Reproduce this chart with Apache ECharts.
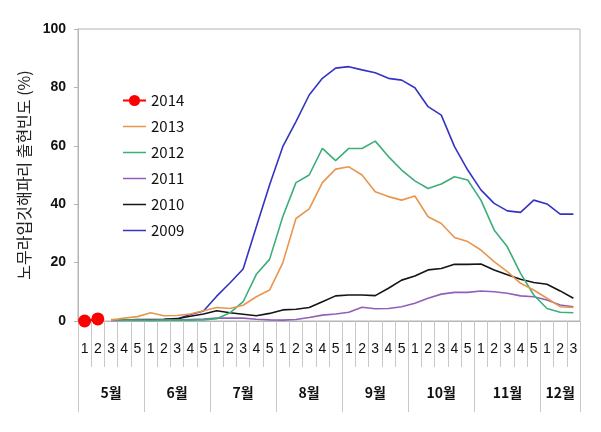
<!DOCTYPE html>
<html>
<head>
<meta charset="utf-8">
<script src="https://cdn.jsdelivr.net/npm/echarts@6/dist/echarts.min.js"></script>
<style>html,body{margin:0;padding:0;background:#fff;}#c{width:601px;height:432px;}</style>
</head>
<body>
<div id="c"></div>
<script>
// ---- data ----
const months = ['5월','6월','7월','8월','9월','10월','11월','12월'];
const weeksPerMonth = [5,5,5,5,5,5,5,3];
const yTicks = [0, 20, 40, 60, 80, 100];

const y2014 = [0, 0.7];
const y2013 = [null,null,0.3,1.0,1.5,2.8,1.8,1.9,2.4,3.5,4.6,4.3,5.4,8.3,10.6,19.9,35.1,38.4,47.4,52.0,52.8,50.0,44.3,42.6,41.4,42.8,35.7,33.4,28.6,27.2,24.3,20.3,16.9,12.9,10.6,7.8,4.9,4.6];
const y2012 = [null,null,0.5,0.3,0.3,0.2,0.3,0.3,0.3,0.4,0.8,2.8,6.6,16.0,21.1,35.7,47.4,50.0,59.1,54.9,59.1,59.1,61.6,56.3,51.7,48.0,45.4,46.9,49.4,48.3,41.4,31.2,25.4,16.3,8.9,4.3,3.0,2.8];
const y2011 = [null,null,0.2,0.2,0.2,0.2,0.3,0.3,0.5,0.7,1.0,1.0,1.0,0.6,0.4,0.3,0.5,1.2,2.0,2.4,3.0,4.7,4.2,4.3,4.9,6.1,7.8,9.2,9.8,9.8,10.3,10.0,9.5,8.6,8.3,7.2,5.5,4.9];
const y2010 = [null,null,0.3,0.3,0.5,0.5,0.6,0.8,1.6,2.4,3.5,2.8,2.3,1.8,2.6,3.8,4.0,4.6,6.6,8.6,8.9,8.9,8.7,11.2,14.0,15.4,17.5,18.0,19.4,19.4,19.5,17.5,15.8,14.3,13.2,12.6,10.3,7.8];
const y2009 = [null,null,0.2,0.3,0.3,0.4,0.5,0.7,2.2,3.4,8.5,13.0,17.8,32.3,46.6,59.7,68.3,77.4,83.1,86.6,87.1,86.0,85.0,83.1,82.5,79.9,73.4,70.5,59.7,51.7,44.9,40.3,37.7,37.2,41.4,40.1,36.6,36.6];

// ---- build categories ----
const cats = [];
const monthStart = {};
const monthMid = {};
months.forEach((m, mi) => {
  const n = weeksPerMonth[mi];
  for (let w = 1; w <= n; w++) {
    const idx = cats.length;
    if (w === 1) monthStart[idx] = true;
    if (w === Math.ceil(n / 2)) monthMid[idx] = m;
    cats.push(m + '|' + w);
  }
});

const chart = echarts.init(document.getElementById('c'));
const lineS = (name, data, color) => ({
  name, type: 'line', data, symbol: 'none', connectNulls: false,
  lineStyle: { color, width: 1.6 }, itemStyle: { color }
});
const lineIcon = 'path://M0,0h46v3h-46z';

chart.setOption({
  animation: false,
  grid: { left: 78, right: 21, top: 29, bottom: 111, show: true, borderColor: '#b4b4b4', borderWidth: 1 },
  legend: {
    orient: 'vertical', left: 117, top: 88, itemWidth: 23, itemHeight: 14, itemGap: 11,
    symbolKeepAspect: true,
    data: [
      { name: '2014' },
      { name: '2013', icon: lineIcon },
      { name: '2012', icon: lineIcon },
      { name: '2011', icon: lineIcon },
      { name: '2010', icon: lineIcon },
      { name: '2009', icon: lineIcon }
    ],
    textStyle: { fontFamily: 'Noto Sans CJK KR', fontSize: 15, color: '#111' }
  },
  xAxis: [
    {
      type: 'category', data: cats, boundaryGap: true, position: 'bottom',
      axisLine: { show: true, lineStyle: { color: '#b4b4b4' } },
      axisTick: { show: true, interval: 0, length: 46, lineStyle: { color: '#c8c8c8' } },
      axisLabel: { interval: 0, margin: 21, fontSize: 14, color: '#111', fontFamily: 'Liberation Sans',
        formatter: v => v.split('|')[1] }
    },
    {
      type: 'category', data: cats, boundaryGap: true, position: 'bottom',
      axisLine: { show: false },
      axisTick: { show: true, length: 91, lineStyle: { color: '#c8c8c8' }, interval: (i) => !!monthStart[i] },
      axisLabel: { margin: 65, fontSize: 14, fontWeight: 'bold', color: '#111', fontFamily: 'Noto Sans CJK KR',
        interval: (i) => monthMid[i] !== undefined,
        formatter: (v, i) => monthMid[i] || '' }
    }
  ],
  yAxis: {
    type: 'value', min: yTicks[0], max: yTicks[yTicks.length - 1], interval: 20,
    name: '노무라입깃해파리 출현빈도 (%)', nameLocation: 'middle', nameGap: 43, nameRotate: 90,
    nameTextStyle: { fontFamily: 'Noto Sans CJK KR', fontSize: 16, color: '#222' },
    splitLine: { show: false },
    axisLine: { show: true, lineStyle: { color: '#b4b4b4' } },
    axisTick: { show: true, length: 4, lineStyle: { color: '#b4b4b4' } },
    axisLabel: { margin: 12, fontSize: 14, fontWeight: 'bold', color: '#111', fontFamily: 'Liberation Sans' }
  },
  series: [
    lineS('2009', y2009, '#3434C2'),
    lineS('2010', y2010, '#151515'),
    lineS('2011', y2011, '#9060B8'),
    lineS('2012', y2012, '#3DAE7A'),
    lineS('2013', y2013, '#E8964E'),
    { name: '2014', type: 'line', data: y2014, symbol: 'circle', symbolSize: 13,
      lineStyle: { color: '#FF0000', width: 2 }, itemStyle: { color: '#FF0000' } }
  ]
});
</script>
</body>
</html>
